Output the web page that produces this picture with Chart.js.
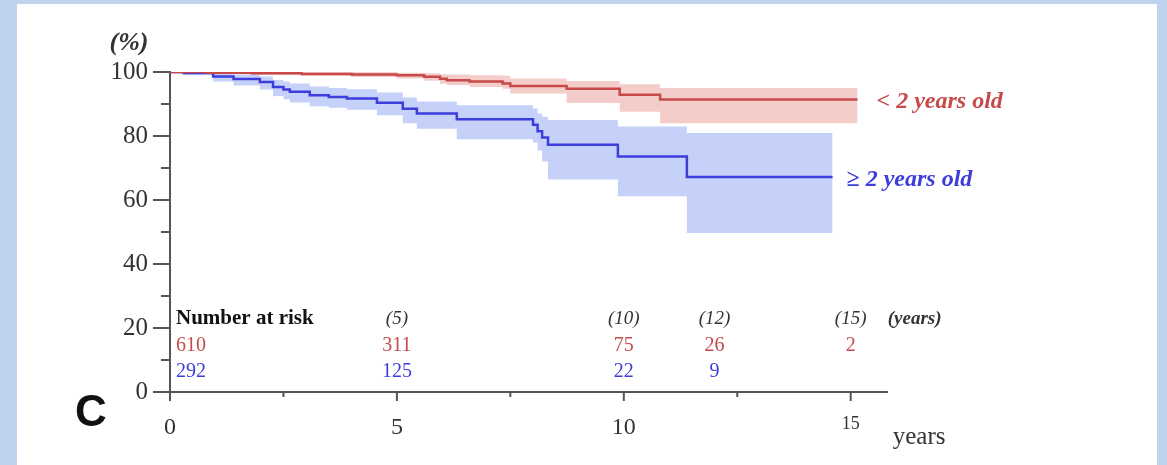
<!DOCTYPE html>
<html>
<head>
<meta charset="utf-8">
<script src="https://cdn.jsdelivr.net/npm/chart.js@4.4.1/dist/chart.umd.min.js"></script>
<style>
  html, body { margin: 0; padding: 0; background: #bfd3ef; }
  #panel { position: absolute; left: 17px; top: 4px; width: 1140px; height: 461px; background: #fff; }
  #km { position: absolute; left: 0; top: 0; }
</style>
</head>
<body>
<div id="panel"></div>
<canvas id="km" width="1167" height="465"></canvas>
<script>
// < 2 years old (red)
var redTime  = [0, 0.8, 1.8, 2.9, 4.0, 5.0, 5.6, 5.95, 6.1, 6.6, 7.33, 7.5, 8.74, 9.91, 10.8, 15.15];
var redSurv  = [100, 99.8, 99.6, 99.4, 99.2, 99.0, 98.5, 97.9, 97.4, 97.0, 96.4, 95.6, 94.8, 92.9, 91.4, 91.4];
var redUpper = [100, 100, 100, 100, 100, 99.8, 99.6, 99.3, 99.2, 99.0, 98.8, 98.0, 97.2, 96.2, 95.0, 95.0];
var redLower = [100, 99.5, 99.1, 98.8, 98.4, 98.0, 97.3, 96.3, 95.9, 95.3, 94.8, 93.3, 90.3, 87.6, 84.0, 84.0];

// >= 2 years old (blue)
var blueTime  = [0, 0.3, 0.95, 1.4, 1.98, 2.27, 2.5, 2.64, 3.08, 3.5, 3.9, 4.56, 5.13, 5.44, 6.32, 8.0, 8.1, 8.2, 8.33, 9.87, 11.39, 14.6];
var blueSurv  = [100, 99.7, 98.6, 97.8, 96.9, 95.3, 94.5, 93.8, 92.7, 92.2, 91.7, 90.4, 88.5, 87.0, 85.2, 83.5, 81.5, 79.5, 77.3, 73.6, 67.2, 67.2];
var blueUpper = [100, 100, 99.7, 99.2, 98.6, 97.5, 97.0, 96.4, 95.5, 95.0, 94.6, 93.6, 92.0, 90.8, 89.6, 88.6, 87.0, 86.0, 85.0, 83.0, 80.9, 80.9];
var blueLower = [100, 99.0, 97.0, 95.8, 94.5, 92.5, 91.5, 90.5, 89.3, 88.8, 88.2, 86.5, 84.0, 82.3, 79.0, 78.0, 75.5, 72.0, 66.4, 61.2, 49.7, 49.7];

// axes
var xTicks = [0, 5, 10, 15];
var xMinor = [2.5, 7.5, 12.5];
var yTicks = [0, 20, 40, 60, 80, 100];
var yMinor = [10, 30, 50, 70, 90];

// number at risk table
var riskTimes = [0, 5, 10, 12, 15];
var riskHead  = ['Number at risk', '(5)', '(10)', '(12)', '(15)'];
var riskRed   = [610, 311, 75, 26, 2];
var riskBlue  = [292, 125, 22, 9, null];

var redLabel = '< 2 years old';
var blueLabel = '\u2265 2 years old';

var RED = '#c64a4a', BLUE = '#3d3ddb', AXIS = '#555555';
var SERIF = '"Liberation Serif", "Times New Roman", serif';

function pts(t, v) {
    return t.map(function (x, i) { return { x: x, y: v[i] }; });
}

var kmDecor = {
    id: 'kmDecor',
    afterDraw: function (chart) {
        var ctx = chart.ctx, a = chart.chartArea;
        var xs = chart.scales.x, ys = chart.scales.y;
        ctx.save();

        // tick marks
        ctx.strokeStyle = AXIS;
        ctx.lineWidth = 2;
        function seg(x1, y1, x2, y2) {
            ctx.beginPath(); ctx.moveTo(x1, y1); ctx.lineTo(x2, y2); ctx.stroke();
        }
        yTicks.forEach(function (v) { var p = ys.getPixelForValue(v); seg(a.left - 17, p, a.left, p); });
        yMinor.forEach(function (v) { var p = ys.getPixelForValue(v); seg(a.left - 9, p, a.left, p); });
        xTicks.forEach(function (v) { var p = xs.getPixelForValue(v); seg(p, a.bottom, p, a.bottom + 9); });
        xMinor.forEach(function (v) { var p = xs.getPixelForValue(v); seg(p, a.bottom, p, a.bottom + 5); });

        ctx.textBaseline = 'middle';

        // (%) and years
        ctx.fillStyle = '#333';
        ctx.textAlign = 'center';
        ctx.font = 'italic bold 26px ' + SERIF;
        ctx.fillText('(%)', a.left - 41, a.top - 29);
        ctx.textAlign = 'left';
        ctx.font = '25px ' + SERIF;
        ctx.fillText('years', xs.getPixelForValue(15) + 42, a.bottom + 45);

        // panel letter
        ctx.fillStyle = '#111';
        ctx.textAlign = 'center';
        ctx.font = 'bold 44px "Liberation Sans", Arial, sans-serif';
        ctx.fillText('C', 91, a.bottom + 22);

        // curve labels
        ctx.textAlign = 'left';
        ctx.font = 'italic bold 24px ' + SERIF;
        var n = redTime.length - 1;
        ctx.fillStyle = RED;
        ctx.fillText(redLabel, xs.getPixelForValue(redTime[n]) + 19, ys.getPixelForValue(redSurv[n]) + 2);
        n = blueTime.length - 1;
        ctx.fillStyle = BLUE;
        ctx.fillText(blueLabel, xs.getPixelForValue(blueTime[n]) + 14, ys.getPixelForValue(blueSurv[n]) + 3);

        // number at risk
        var rowY = [a.bottom - 73, a.bottom - 46, a.bottom - 20];
        riskTimes.forEach(function (t, i) {
            var px = xs.getPixelForValue(t);
            if (i === 0) {
                ctx.textAlign = 'left';
                px = a.left + 6;
                ctx.fillStyle = '#111';
                ctx.font = 'bold 21px ' + SERIF;
            } else {
                ctx.textAlign = 'center';
                ctx.fillStyle = '#333';
                ctx.font = 'italic 19px ' + SERIF;
            }
            ctx.fillText(riskHead[i], px, rowY[0]);
            ctx.font = '20px ' + SERIF;
            if (riskRed[i] !== null) { ctx.fillStyle = RED; ctx.fillText(riskRed[i], px, rowY[1]); }
            if (riskBlue[i] !== null) { ctx.fillStyle = BLUE; ctx.fillText(riskBlue[i], px, rowY[2]); }
        });
        ctx.textAlign = 'left';
        ctx.fillStyle = '#333';
        ctx.font = 'italic bold 19px ' + SERIF;
        ctx.fillText('(years)', xs.getPixelForValue(15) + 37, rowY[0]);

        ctx.restore();
    }
};

var line = { pointRadius: 0, borderWidth: 2.5, stepped: true, fill: false, order: 0 };
var band = { pointRadius: 0, borderWidth: 0, stepped: true, order: 1 };

new Chart(document.getElementById('km'), {
    type: 'line',
    data: {
        datasets: [
            Object.assign({ data: pts(redTime, redSurv), borderColor: RED }, line),
            Object.assign({ data: pts(blueTime, blueSurv), borderColor: BLUE }, line),
            Object.assign({ data: pts(redTime, redUpper), fill: '+1', backgroundColor: 'rgba(228,135,130,0.42)' }, band),
            Object.assign({ data: pts(redTime, redLower), fill: false }, band),
            Object.assign({ data: pts(blueTime, blueUpper), fill: '+1', backgroundColor: 'rgba(120,145,240,0.42)' }, band),
            Object.assign({ data: pts(blueTime, blueLower), fill: false }, band)
        ]
    },
    options: {
        responsive: false,
        animation: false,
        layout: { padding: { left: 110, top: 72, right: 280, bottom: 0 } },
        plugins: { legend: { display: false }, tooltip: { enabled: false } },
        scales: {
            x: {
                type: 'linear', min: 0, max: 15.8,
                afterBuildTicks: function (s) { s.ticks = xTicks.map(function (v) { return { value: v }; }); },
                afterFit: function (s) { s.height = 73; },
                grid: { display: false, drawTicks: false },
                border: { color: AXIS, width: 2 },
                ticks: {
                    padding: 21, color: '#333', maxRotation: 0,
                    font: function (c) { return { family: SERIF, size: c.tick && c.tick.value === 15 ? 18 : 24 }; }
                }
            },
            y: {
                min: 0, max: 100,
                afterBuildTicks: function (s) { s.ticks = yTicks.map(function (v) { return { value: v }; }); },
                afterFit: function (s) { s.width = 60; },
                grid: { display: false, drawTicks: false },
                border: { color: AXIS, width: 2 },
                ticks: { padding: 22, color: '#333', font: { family: SERIF, size: 25 } }
            }
        }
    },
    plugins: [kmDecor]
});
</script>
</body>
</html>
